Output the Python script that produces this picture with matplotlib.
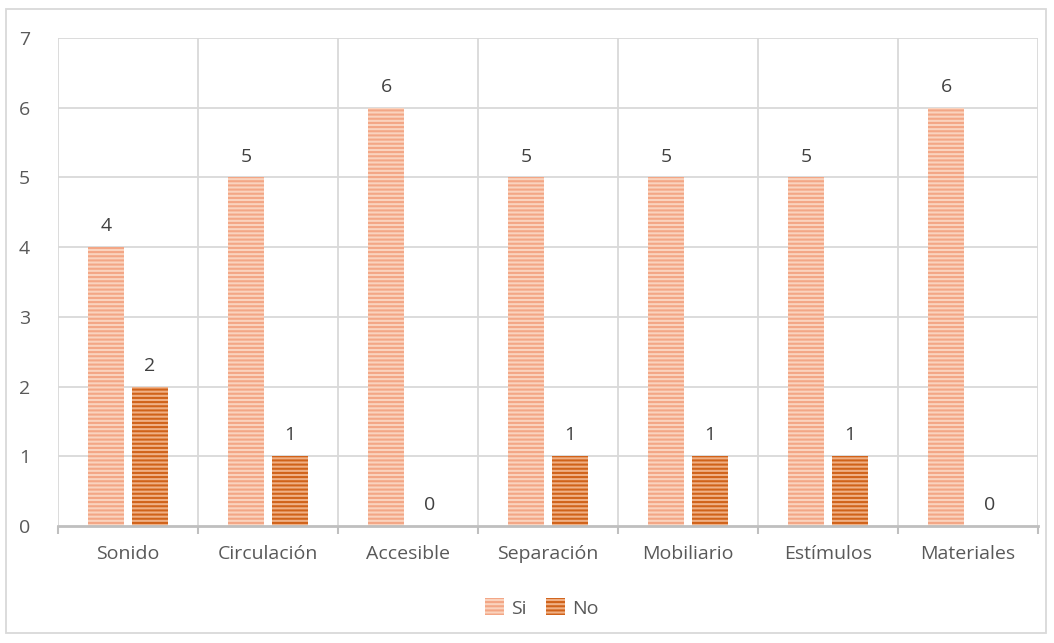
import numpy as np
import matplotlib.pyplot as plt
from matplotlib.patches import Rectangle

categorias = ["Sonido", "Circulación", "Accesible", "Separación", "Mobiliario", "Estímulos", "Materiales"]
si = [4, 5, 6, 5, 5, 5, 6]
no = [2, 1, 0, 1, 1, 1, 0]
y_ticks = [0, 1, 2, 3, 4, 5, 6, 7]

plt.rcParams["font.family"] = ["Open Sans", "DejaVu Sans"]
plt.rcParams["hatch.linewidth"] = 1.5

fig = plt.figure(figsize=(10.54, 6.43), dpi=100)
ax = fig.add_axes([58 / 1054, 1 - 526 / 643, 980 / 1054, 488 / 643])

x = np.arange(len(categorias))
ancho = 0.257
desp = 0.157

barras_si = ax.bar(x - desp, si, ancho, color="#FAD3BE", edgecolor="#F3A685",
                   hatch="----", linewidth=0, label="Si")
barras_no = ax.bar(x + desp, no, ancho, color="#F0B085", edgecolor="#D0621A",
                   hatch="----", linewidth=0, label="No")

# etiquetas de valor
for xi, v in zip(x - desp, si):
    ax.text(xi, v + 0.17, str(v), ha="center", va="bottom", fontsize=14, color="#404040")
for xi, v in zip(x + desp, no):
    ax.text(xi, v + 0.17, str(v), ha="center", va="bottom", fontsize=14, color="#404040")

ax.set_xlim(-0.5, len(categorias) - 0.5)
ax.set_ylim(0, 7)
ax.set_yticks(y_ticks)
ax.set_yticklabels([str(t) for t in y_ticks], fontsize=14, color="#595959")
ax.tick_params(axis="y", length=0, pad=20)

# rejilla horizontal y separadores verticales entre categorías
for t in y_ticks[1:]:
    ax.axhline(t, color="#D9D9D9", lw=1.3, zorder=0)
for b in np.arange(-0.5, len(categorias) + 0.5, 1):
    ax.axvline(b, color="#D9D9D9", lw=1.3, zorder=0)

ax.set_xticks(np.arange(-0.5, len(categorias) + 0.5, 1), minor=False)
ax.set_xticklabels([""] * (len(categorias) + 1))
ax.tick_params(axis="x", length=6, width=1.5, color="#BFBFBF", direction="out")
ax.set_xticks(x, minor=True)
ax.set_xticklabels(categorias, minor=True, fontsize=14, color="#595959")
ax.tick_params(axis="x", which="minor", length=0, pad=14)

for s in ["top", "right", "left"]:
    ax.spines[s].set_visible(False)
ax.spines["bottom"].set_color("#BFBFBF")
ax.spines["bottom"].set_linewidth(2)

leg = fig.legend(handles=[barras_si, barras_no], loc="center", bbox_to_anchor=(542 / 1054, 1 - 608 / 643),
                 ncol=2, frameon=False, fontsize=14, handlelength=0.95, handleheight=0.95,
                 handletextpad=0.4, columnspacing=1.0, labelcolor="#595959")

fig.patches.append(Rectangle((6 / 1054, 10 / 643), 1040 / 1054, 624 / 643, transform=fig.transFigure,
                             fill=False, edgecolor="#D9D9D9", lw=1.3))

fig.savefig("out.png", dpi=100)
